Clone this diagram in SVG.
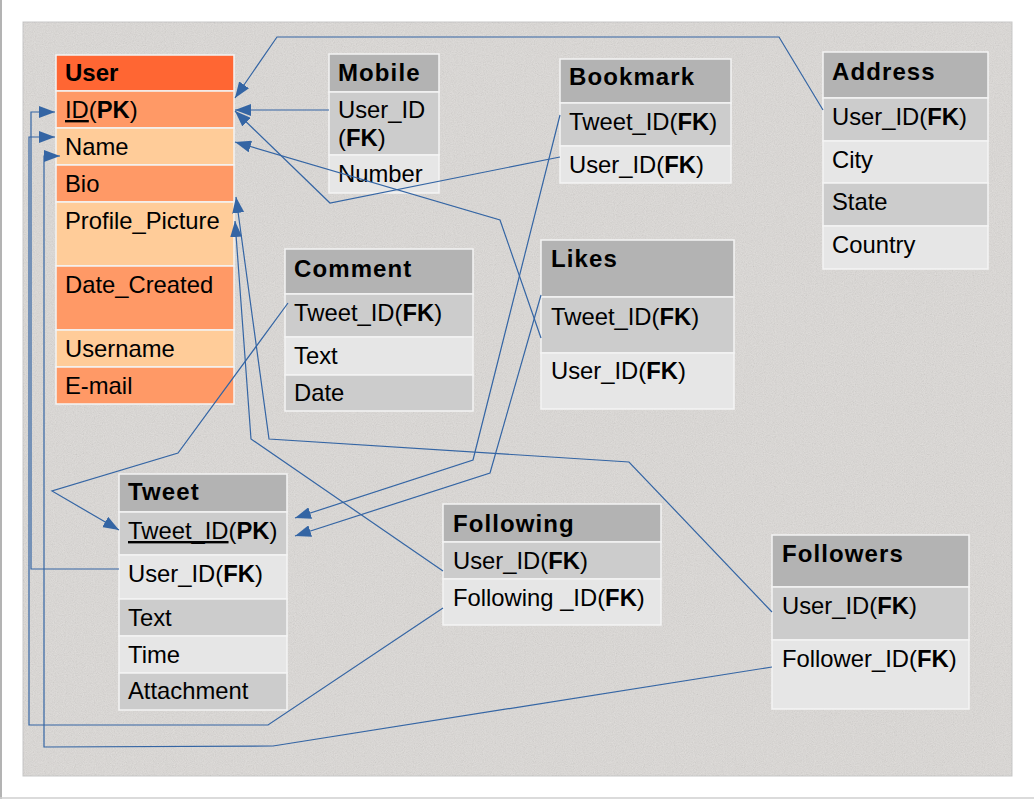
<svg xmlns="http://www.w3.org/2000/svg" width="1034" height="799" viewBox="0 0 1034 799">
<style>
.t{font-family:"Liberation Sans",Arial,sans-serif;font-size:23.8px;fill:#000}
.h{font-family:"Liberation Sans",Arial,sans-serif;font-size:24px;font-weight:bold;letter-spacing:1.1px;fill:#000}
.b{font-weight:bold}
.u{text-decoration:underline}
.row{stroke:#f4f4f4;stroke-width:1.5}
.hd{fill:#b3b3b3}.c1{fill:#cccccc}.c2{fill:#e6e6e6}
.o0{fill:#ff6633}.o1{fill:#ff9966}.o2{fill:#ffcc99}
.ln{fill:none;stroke:#3465a4;stroke-width:1.2;marker-end:url(#arr)}
</style>
<defs>
<marker id="arr" viewBox="0 0 16 12" refX="16" refY="6" markerWidth="16" markerHeight="12" markerUnits="userSpaceOnUse" orient="auto">
<path d="M0,0 L16,6 L0,12 z" fill="#3465a4"/>
</marker>
<filter id="grain" x="0" y="0" width="100%" height="100%">
<feTurbulence type="fractalNoise" baseFrequency="0.9" numOctaves="3" seed="7" result="n"/>
<feColorMatrix in="n" type="matrix" values="0.33 0.33 0.33 0 0 0.33 0.33 0.33 0 0 0.33 0.33 0.33 0 0 0 0 0 0 0.22"/>
</filter>
</defs>
<rect x="0" y="0" width="1034" height="799" fill="#ffffff"/>
<line x1="1" y1="0" x2="1" y2="799" stroke="#9a9a9a" stroke-width="1.5"/>
<line x1="0" y1="798" x2="1034" y2="798" stroke="#cfcfcf" stroke-width="1.5"/>
<rect x="23" y="22" width="989" height="754" fill="#e0ddda" stroke="#c8c8c8" stroke-width="1"/>
<rect x="23.5" y="22.5" width="988" height="753" fill="#fff" filter="url(#grain)"/>

<g id="user">
<rect class="row o0" x="56" y="55" width="178" height="36"/>
<rect class="row o1" x="56" y="91" width="178" height="37"/>
<rect class="row o2" x="56" y="128" width="178" height="37"/>
<rect class="row o1" x="56" y="165" width="178" height="37"/>
<rect class="row o2" x="56" y="202" width="178" height="64"/>
<rect class="row o1" x="56" y="266" width="178" height="64"/>
<rect class="row o2" x="56" y="330" width="178" height="37"/>
<rect class="row o1" x="56" y="367" width="178" height="37"/>
<text class="h" x="65" y="81" style="letter-spacing:0">User</text>
<text class="t" x="65" y="118"><tspan class="u">ID</tspan>(<tspan class="b">PK</tspan>)</text>
<text class="t" x="65" y="155">Name</text>
<text class="t" x="65" y="192">Bio</text>
<text class="t" x="65" y="229">Profile_Picture</text>
<text class="t" x="65" y="293">Date_Created</text>
<text class="t" x="65" y="357">Username</text>
<text class="t" x="65" y="394">E-mail</text>
</g>

<g id="mobile">
<rect class="row hd" x="329" y="54" width="110" height="38"/>
<rect class="row c1" x="329" y="92" width="110" height="63"/>
<rect class="row c2" x="329" y="155" width="110" height="38"/>
<text class="h" x="338" y="81">Mobile</text>
<text class="t" x="338" y="118">User_ID</text>
<text class="t" x="338" y="146">(<tspan class="b">FK</tspan>)</text>
<text class="t" x="338" y="182">Number</text>
</g>

<g id="bookmark">
<rect class="row hd" x="560" y="59" width="171" height="44"/>
<rect class="row c1" x="560" y="103" width="171" height="43"/>
<rect class="row c2" x="560" y="146" width="171" height="37"/>
<text class="h" x="569" y="85">Bookmark</text>
<text class="t" x="569" y="130">Tweet_ID(<tspan class="b">FK</tspan>)</text>
<text class="t" x="569" y="173">User_ID(<tspan class="b">FK</tspan>)</text>
</g>

<g id="address">
<rect class="row hd" x="823" y="52" width="165" height="46"/>
<rect class="row c1" x="823" y="98" width="165" height="43"/>
<rect class="row c2" x="823" y="141" width="165" height="42"/>
<rect class="row c1" x="823" y="183" width="165" height="43"/>
<rect class="row c2" x="823" y="226" width="165" height="43"/>
<text class="h" x="832" y="80">Address</text>
<text class="t" x="832" y="125">User_ID(<tspan class="b">FK</tspan>)</text>
<text class="t" x="832" y="168">City</text>
<text class="t" x="832" y="210">State</text>
<text class="t" x="832" y="253">Country</text>
</g>

<g id="comment">
<rect class="row hd" x="285" y="249" width="188" height="45"/>
<rect class="row c1" x="285" y="294" width="188" height="43"/>
<rect class="row c2" x="285" y="337" width="188" height="38"/>
<rect class="row c1" x="285" y="375" width="188" height="36"/>
<text class="h" x="294" y="277">Comment</text>
<text class="t" x="294" y="321">Tweet_ID(<tspan class="b">FK</tspan>)</text>
<text class="t" x="294" y="364">Text</text>
<text class="t" x="294" y="401">Date</text>
</g>

<g id="likes">
<rect class="row hd" x="541" y="240" width="193" height="57"/>
<rect class="row c1" x="541" y="297" width="193" height="56"/>
<rect class="row c2" x="541" y="353" width="193" height="56"/>
<text class="h" x="551" y="267">Likes</text>
<text class="t" x="551" y="325">Tweet_ID(<tspan class="b">FK</tspan>)</text>
<text class="t" x="551" y="379">User_ID(<tspan class="b">FK</tspan>)</text>
</g>

<g id="tweet">
<rect class="row hd" x="119" y="474" width="168" height="38"/>
<rect class="row c1" x="119" y="512" width="168" height="43"/>
<rect class="row c2" x="119" y="555" width="168" height="44"/>
<rect class="row c1" x="119" y="599" width="168" height="37"/>
<rect class="row c2" x="119" y="636" width="168" height="37"/>
<rect class="row c1" x="119" y="673" width="168" height="37"/>
<text class="h" x="128" y="500">Tweet</text>
<text class="t" x="128" y="539"><tspan class="u">Tweet_ID</tspan>(<tspan class="b">PK</tspan>)</text>
<text class="t" x="128" y="582">User_ID(<tspan class="b">FK</tspan>)</text>
<text class="t" x="128" y="626">Text</text>
<text class="t" x="128" y="663">Time</text>
<text class="t" x="128" y="699">Attachment</text>
</g>

<g id="following">
<rect class="row hd" x="443" y="504" width="218" height="38"/>
<rect class="row c1" x="443" y="542" width="218" height="37"/>
<rect class="row c2" x="443" y="579" width="218" height="46"/>
<text class="h" x="453" y="532">Following</text>
<text class="t" x="453" y="569">User_ID(<tspan class="b">FK</tspan>)</text>
<text class="t" x="453" y="606">Following _ID(<tspan class="b">FK</tspan>)</text>
</g>

<g id="followers">
<rect class="row hd" x="772" y="535" width="197" height="52"/>
<rect class="row c1" x="772" y="587" width="197" height="53"/>
<rect class="row c2" x="772" y="640" width="197" height="69"/>
<text class="h" x="782" y="562">Followers</text>
<text class="t" x="782" y="614">User_ID(<tspan class="b">FK</tspan>)</text>
<text class="t" x="782" y="667">Follower_ID(<tspan class="b">FK</tspan>)</text>
</g>

<g id="connectors">
<polyline class="ln" points="823,110 779,37 277,37 235,98"/>
<polyline class="ln" points="329,110 235,110"/>
<polyline class="ln" points="560,157 330,203 235,111"/>
<polyline class="ln" points="541,338 500,220 235,142"/>
<polyline class="ln" points="560,115 473,460 295,518"/>
<polyline class="ln" points="541,295 490,473 295,536"/>
<polyline class="ln" points="288,303 178,453 52,491 119,530"/>
<polyline class="ln" points="119,569 31,569 31,112 55,112"/>
<polyline class="ln" points="443,608 268,725 29,725 29,137 55,137"/>
<polyline class="ln" points="772,667 273,746 44,747 44,156 60,156"/>
<polyline class="ln" points="772,612 629,462 269,439 236,197"/>
<polyline class="ln" points="443,571 251,439 235,221"/>
</g>
</svg>
